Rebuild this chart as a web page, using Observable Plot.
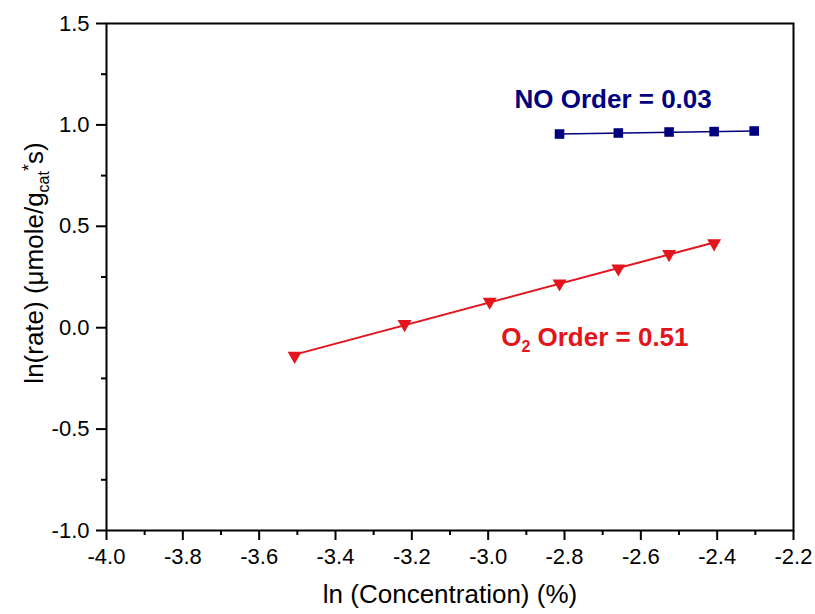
<!DOCTYPE html>
<html>
<head>
<meta charset="utf-8">
<script src="https://cdn.jsdelivr.net/npm/d3@7"></script>
<script src="https://cdn.jsdelivr.net/npm/@observablehq/plot@0.6"></script>
<style>
  html, body { margin: 0; padding: 0; background: #fff; }
  #chart { width: 815px; height: 614px; }
</style>
</head>
<body>
<div id="chart"></div>
<script>
// ---- data ----
const noX = [-2.813, -2.659, -2.526, -2.408, -2.303];
const noY = [0.955, 0.960, 0.965, 0.967, 0.970];
const o2X = [-3.507, -3.219, -2.996, -2.813, -2.659, -2.526, -2.408];
const o2Y = [-0.139, 0.018, 0.128, 0.218, 0.292, 0.363, 0.416];

const xTicks = [-4.0, -3.8, -3.6, -3.4, -3.2, -3.0, -2.8, -2.6, -2.4, -2.2];
const xMinor = [-3.9, -3.7, -3.5, -3.3, -3.1, -2.9, -2.7, -2.5, -2.3];
const yTicks = [-1.0, -0.5, 0.0, 0.5, 1.0, 1.5];
const yMinor = [-0.75, -0.25, 0.25, 0.75, 1.25];

const xLabel = "ln (Concentration) (%)";
const yLabel = "ln(rate) (μmole/gcat*s)";
const noLabel = [{x: -2.931, y: 1.085, text: "NO Order = 0.03"}];
const o2Label = [{x: -2.966, y: -0.089, text: "O2 Order = 0.51"}];

const navy = "#00007f";
const red = "#e3141c";

const noData = noX.map((x, i) => ({x, y: noY[i]}));
const o2Data = o2X.map((x, i) => ({x, y: o2Y[i]}));

const fmt = d3.formatLocale({decimal: ".", thousands: ",", grouping: [3], currency: ["", ""], minus: "-"}).format(".1f");

const triangleDown = {
  draw(context, size) {
    const sqrt3 = Math.sqrt(3);
    const y = -Math.sqrt(size / (sqrt3 * 3));
    context.moveTo(0, -y * 2);
    context.lineTo(-sqrt3 * y, y);
    context.lineTo(sqrt3 * y, y);
    context.closePath();
  }
};

const plot = Plot.plot({
  width: 815,
  height: 614,
  marginLeft: 106,
  marginRight: 22,
  marginTop: 23,
  marginBottom: 84,
  style: {fontFamily: "'Liberation Sans', Arial, sans-serif", fontSize: "22px", color: "#000", background: "#fff"},
  x: {domain: [-4.0, -2.2]},
  y: {domain: [-1.0, 1.5]},
  marks: [
    Plot.axisX(xMinor, {tickSize: 5, strokeWidth: 2, tickFormat: () => "", label: null}),
    Plot.axisX(xTicks, {tickSize: 10, strokeWidth: 2, tickPadding: 8, tickFormat: fmt, fontSize: 22, label: null}),
    Plot.axisY(yMinor, {tickSize: 5, strokeWidth: 2, tickFormat: () => "", label: null}),
    Plot.axisY(yTicks, {tickSize: 10, strokeWidth: 2, tickPadding: 7, tickFormat: fmt, fontSize: 22, label: null}),
    Plot.frame({stroke: "#000", strokeWidth: 2}),
    Plot.linearRegressionY(noData, {x: "x", y: "y", stroke: navy, strokeWidth: 1.5, ci: 0}),
    Plot.linearRegressionY(o2Data, {x: "x", y: "y", stroke: red, strokeWidth: 2, ci: 0}),
    Plot.dot(noData, {x: "x", y: "y", symbol: "square", r: 5.4, fill: navy, stroke: "none"}),
    Plot.dot(o2Data, {x: "x", y: "y", symbol: triangleDown, r: 5.2, fill: red, stroke: "none"}),
    Plot.text(noLabel, {x: "x", y: "y", text: "text", fill: navy, fontSize: 26, fontWeight: "bold", textAnchor: "start", lineAnchor: "bottom"}),
    Plot.text(o2Label, {x: "x", y: "y", text: "text", fill: red, fontSize: 26, fontWeight: "bold", textAnchor: "start", lineAnchor: "bottom"}),
    Plot.text([xLabel], {text: d => d, frameAnchor: "bottom", dy: 72, lineAnchor: "bottom", fontSize: 26, fill: "#000"}),
    Plot.text([yLabel], {text: d => d, frameAnchor: "left", dx: -64, dy: -14, rotate: -90, textAnchor: "middle", lineAnchor: "bottom", fontSize: 26, fill: "#000"})
  ]
});

// rich text: subscripts / superscripts
d3.select(plot).selectAll("text").each(function() {
  const el = d3.select(this);
  const t = this.textContent;
  if (t === yLabel) {
    el.text(null);
    el.append("tspan").text("ln(rate) (μmole/g");
    el.append("tspan").attr("font-size", 16).attr("dy", 6).text("cat");
    el.append("tspan").attr("font-size", 18).attr("dy", -14).text("*");
    el.append("tspan").attr("font-size", 26).attr("dy", 8).text("s)");
  } else if (t === o2Label[0].text) {
    el.text(null);
    el.append("tspan").text("O");
    el.append("tspan").attr("font-size", 16).attr("dy", 6).text("2");
    el.append("tspan").attr("dy", -6).text(" Order = 0.51");
  }
});

document.getElementById("chart").appendChild(plot);
</script>
</body>
</html>
